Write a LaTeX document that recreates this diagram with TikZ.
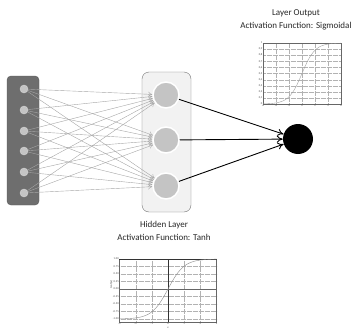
\documentclass[tikz,border=0pt]{standalone}
\usepackage{fontspec}
\setmainfont{Carlito}
\usepackage{xcolor}
\usetikzlibrary{arrows.meta}
\definecolor{boxgray}{HTML}{6E6E6E}
\definecolor{nodegray}{HTML}{C4C4C4}
\definecolor{panel}{HTML}{F2F2F2}
\def\width{357}
\def\hauteur{332}

\begin{document}
\begin{tikzpicture}[x=1pt, y=-1pt,
	inunit/.style={circle, fill=nodegray, draw=nodegray!70!white, minimum size=8pt, inner sep=0pt},
	hidunit/.style={circle, fill=nodegray, draw=white, line width=1.5pt, minimum size=26pt, inner sep=0pt},
	outunit/.style={circle, fill=black, minimum size=30pt, inner sep=0pt},
	wire/.style={draw=gray!70, line width=0.4pt, -{To[length=4pt, width=5pt]}},
	bigwire/.style={draw=black, line width=0.9pt, -{To[length=6pt, width=7pt]}},
	caption/.style={font=\fontsize{9}{13}\selectfont, align=center, text=black!85},
	ticklbl/.style={font=\fontsize{2.8}{3}\selectfont, inner sep=0.5pt, text=black!70}]
	\useasboundingbox (0,0) rectangle (\width,\hauteur);
	% layer boxes
	\draw[fill=boxgray, draw=black!65, rounded corners=4pt] (7,76) rectangle (39,205);
	\draw[fill=panel, draw=black!55, rounded corners=7pt] (142,72) rectangle (191,212);
	% units
	\foreach \i/\y in {1/89,2/110,3/131,4/151,5/172,6/193}
		\node[inunit] (in\i) at (24,\y) {};
	\foreach \j/\y in {1/95,2/140,3/186}
		\node[hidunit] (hid\j) at (166,\y) {};
	\node[outunit] (out) at (298,139) {};
	% connections
	\foreach \i in {1,...,6}
		\foreach \j in {1,2,3}
			\draw[wire] (in\i) -- (hid\j);
	\foreach \j in {1,2,3}
		\draw[bigwire] (hid\j) -- (out);
	% captions
	\node[caption] (outcap) at (296,20) {Layer Output\\Activation Function: Sigmoidal};
	\node[caption] (hidcap) at (164,231) {Hidden Layer\\Activation Function: Tanh};
	% sigmoid plot
	\begin{scope}[shift={(302,104)}, x=6.5pt, y=61pt]
		\fill[white] (-6,0) rectangle (6,1);
		\foreach \v in {-4,-2,...,4}
			\draw[gray!60, densely dotted, line width=0.2pt] (\v,0) -- (\v,1);
		\foreach \v in {0.1,0.2,...,0.95}
			\draw[gray!60, densely dotted, line width=0.2pt] (-6,\v) -- (6,\v);
		\draw[black!60, line width=0.3pt] (-6,0) rectangle (6,1);
		\draw[gray!80, line width=0.35pt] plot[domain=-6:6, samples=60, smooth] (\x,{1/(1+exp(-\x))});
		\foreach \v in {-6,-4,...,6}
			\node[ticklbl, anchor=north] at (\v,0) {\v};
		\node[ticklbl, anchor=east] at (-6,0) {0};
		\foreach \v/\t in {0.1/{0,1},0.2/{0,2},0.3/{0,3},0.4/{0,4},0.5/{0,5},0.6/{0,6},0.7/{0,7},0.8/{0,8},0.9/{0,9}}
			\node[ticklbl, anchor=east] at (-6,\v) {\t};
		\node[ticklbl, anchor=east] at (-6,1) {1};
	\end{scope}
	% tanh plot
	\begin{scope}[shift={(168,289)}, x=16.2pt, y=30pt]
		\fill[white] (-3,-1.1) rectangle (3,1);
		\foreach \v in {-2,-1,1,2}
			\draw[gray!60, densely dotted, line width=0.2pt] (\v,-1.1) -- (\v,1);
		\foreach \v in {-1,-0.75,-0.5,-0.25,0.25,0.5,0.75}
			\draw[gray!60, densely dotted, line width=0.2pt] (-3,\v) -- (3,\v);
		\draw[black!60, line width=0.3pt] (-3,-1.1) rectangle (3,1);
		\draw[black!80, line width=0.8pt] (-3,1) -- (3,1);
		\draw[black!80, line width=0.8pt] (0,-1.1) -- (0,1);
		\draw[black!60, line width=0.4pt] (-3,0) -- (3,0);
		\draw[gray!90, line width=0.4pt] plot[domain=-3:3, samples=60, smooth] (\x,{tanh(\x)});
		\foreach \v in {-3,...,3}
			\node[ticklbl, anchor=north] at (\v,-1.1) {\v};
		\foreach \v/\t in {-1/-1.00,-0.75/-0.75,-0.5/-0.50,-0.25/-0.25,0/0.00,0.25/0.25,0.5/0.50,0.75/0.75,1/1.00}
			\node[ticklbl, anchor=east] at (-3,\v) {\t};
		\node[ticklbl, rotate=90] at (-3.5,0.15) {tanh(x)};
		\node[ticklbl] at (0,-1.3) {x};
	\end{scope}
\end{tikzpicture}
\end{document}
